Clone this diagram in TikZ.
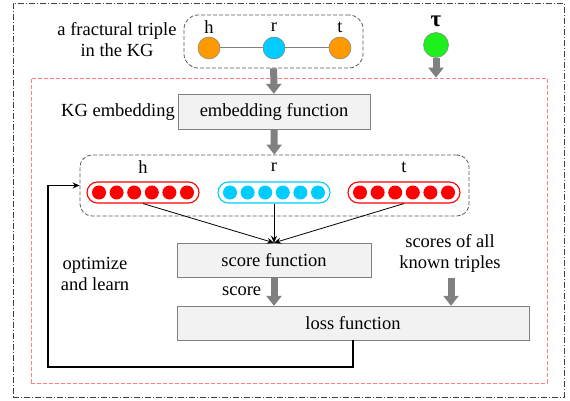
\documentclass[tikz,border=0pt]{standalone}
\usepackage{fontspec}
\setmainfont{Liberation Serif}
\usetikzlibrary{positioning,arrows.meta}
\definecolor{headcolor}{RGB}{255,153,0}
\definecolor{relcolor}{RGB}{0,204,255}
\definecolor{taucolor}{RGB}{30,240,30}
\definecolor{boxfill}{RGB}{242,242,242}
\definecolor{arrowgray}{RGB}{128,128,128}

\begin{document}
\begin{tikzpicture}[
    x=1pt, y=-1pt,
    font=\fontsize{18.5}{21}\selectfont,
    func/.style={rectangle, draw=arrowgray, fill=boxfill, minimum height=34pt, inner sep=0pt},
    vec/.style={rectangle, draw, line width=1.1pt, rounded corners=10.5pt, minimum width=112pt, minimum height=21pt, inner sep=0pt},
    dot/.style={circle, inner sep=0pt, minimum size=14pt},
    ent/.style={circle, draw=arrowgray, line width=0.5pt, minimum size=22pt, inner sep=0pt},
    group/.style={rectangle, draw=black!65, dash pattern=on 4pt off 2pt, line width=0.8pt, rounded corners=14pt, inner sep=0pt},
    bigarrow/.style={draw=arrowgray, line width=7pt, -{Triangle[width=15pt,length=10pt]}},
    feed/.style={->, >={Stealth[length=7pt,width=6pt]}, line width=0.8pt}
]
\useasboundingbox (0,0) rectangle (570,401);

% frames
\node[draw=black!75, dash pattern=on 6pt off 2pt on 1pt off 2pt, line width=0.8pt, minimum width=551pt, minimum height=394pt, inner sep=0pt] (frame) at (288.5,200) {};
\node[draw=red!50, dash pattern=on 4pt off 2pt, line width=0.8pt, minimum width=516pt, minimum height=305pt, inner sep=0pt] (model) at (289,230.5) {};

% the triple
\node[group, minimum width=179pt, minimum height=53pt] (triple) at (273.5,41.5) {};
\node[align=center] (factlab) at (117,40) {a fractural triple\\in the KG};
\node[ent, fill=headcolor] (h) at (209,48) {};
\node[ent, fill=relcolor] (r) at (274,48) {};
\node[ent, fill=headcolor] (t) at (340,48) {};
\draw[arrowgray, line width=1pt] (h) -- (r) -- (t);
\node (hlab) at (209,27) {h};
\node (rlab) at (274,27) {r};
\node (tlab) at (340,27) {t};

\node[ent, fill=taucolor, minimum size=25pt] (tau) at (436,45) {};
\node (taulab) at (436,21) {\fontsize{23}{23}\selectfont\textbf{τ}};
\draw[bigarrow] (tau) -- (tau |- model.north);

% embedding
\node[func, minimum width=192pt, minimum height=35pt] (embed) at (274,111.5) {embedding function};
\node (kglab) at (118,112) {KG embedding};
\draw[bigarrow] (triple) -- (embed);

\node[group, minimum width=389pt, minimum height=61pt, rounded corners=12pt] (vecs) at (274.5,185.5) {};
\draw[bigarrow] (embed) -- (vecs);

\node[vec, draw=red] (hvec) at (143,192.5) {};
\node[vec, draw=relcolor] (rvec) at (274,192.5) {};
\node[vec, draw=red] (tvec) at (404,192.5) {};
\foreach \i in {1,...,6} {
    \node[dot, fill=red] (hdot\i) at (143+\i*17.6-61.6,192.5) {};
    \node[dot, fill=relcolor] (rdot\i) at (274+\i*17.6-61.6,192.5) {};
    \node[dot, fill=red] (tdot\i) at (404+\i*17.6-61.6,192.5) {};
}
\node (hname) at (143,167) {h};
\node (rname) at (274,167) {r};
\node (tname) at (404,167) {t};

% scoring
\node[func, minimum width=194pt] (score) at (274,260) {score function};
\node[func, minimum width=352pt] (loss) at (353,323) {loss function};

\draw[feed] (hvec.south) -- (score.north);
\draw[feed] (rvec) -- (score.north);
\draw[feed] (tvec.south) -- (score.north);

\draw[bigarrow] (score) -- node[left=6pt] {score} (score |- loss.north);

\node[align=center] (known) at (450,253) {scores of all\\known triples};
\coordinate (allsc) at (451,278);
\draw[bigarrow] (allsc) -- (allsc |- loss.north);

% feedback
\node[align=center] (optlab) at (95,274) {optimize\\and learn};
\coordinate (corner) at (48,367);
\draw[feed, line width=1.5pt] (loss.south) |- (corner) |- (vecs.west);
\end{tikzpicture}
\end{document}
